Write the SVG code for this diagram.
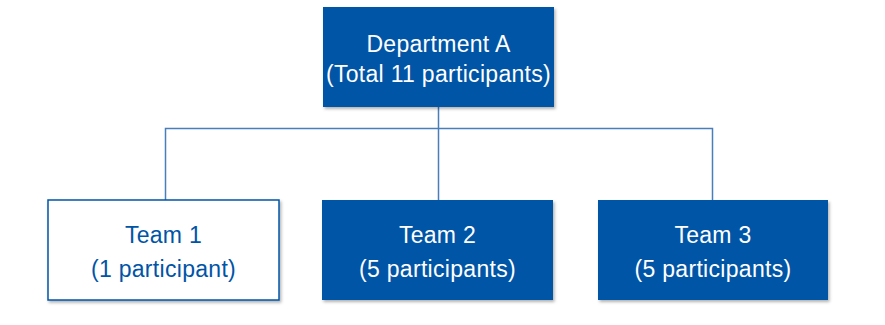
<svg xmlns="http://www.w3.org/2000/svg" width="885" height="325" viewBox="0 0 885 325">
  <defs>
    <filter id="sh" x="-5%" y="-5%" width="115%" height="120%">
      <feDropShadow dx="1.5" dy="2" stdDeviation="1.5" flood-color="#000" flood-opacity="0.3"/>
    </filter>
    <style>
      .filled { fill: #0054a6; filter: url(#sh); }
      .outline { fill: #ffffff; stroke: #0054a6; stroke-width: 1.5; filter: url(#sh); }
      .conn { fill: none; stroke: #4a7ebb; stroke-width: 1.5; }
      text { font-family: "Liberation Sans", Arial, sans-serif; font-size: 23px; letter-spacing: 0.3px; text-anchor: middle; }
      .light { fill: #ffffff; }
      .dark { fill: #0054a6; }
    </style>
  </defs>
  <rect width="885" height="325" fill="#ffffff"/>
  <g id="connectors">
    <path class="conn" d="M438.5 107 V128.5 M165.5 200 V128.5 H712.5 V200 M438.5 128.5 V200"/>
  </g>
  <g id="dept-a">
    <rect class="filled" x="323" y="7" width="231" height="100"/>
    <text class="light" x="438.5" y="52">Department A</text>
    <text class="light" x="438.5" y="82">(Total 11 participants)</text>
  </g>
  <g id="team-1">
    <rect class="outline" x="48" y="200" width="231" height="100"/>
    <text class="dark" x="163.5" y="243">Team 1</text>
    <text class="dark" x="163.5" y="277">(1 participant)</text>
  </g>
  <g id="team-2">
    <rect class="filled" x="322" y="200" width="231" height="100"/>
    <text class="light" x="437.5" y="243">Team 2</text>
    <text class="light" x="437.5" y="277">(5 participants)</text>
  </g>
  <g id="team-3">
    <rect class="filled" x="598" y="200" width="230" height="100"/>
    <text class="light" x="713" y="243">Team 3</text>
    <text class="light" x="713" y="277">(5 participants)</text>
  </g>
</svg>
